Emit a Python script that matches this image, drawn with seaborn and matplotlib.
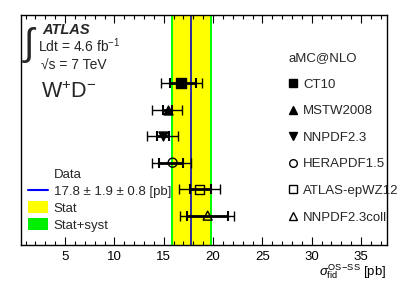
import matplotlib
matplotlib.use("Agg")
import matplotlib.pyplot as plt
import numpy as np
import seaborn as sns
from matplotlib.lines import Line2D
from matplotlib.patches import Patch
from matplotlib.ticker import MultipleLocator

# aMC@NLO predictions with different PDF sets
pdf_sets = ["CT10", "MSTW2008", "NNPDF2.3", "HERAPDF1.5", "ATLAS-epWZ12", "NNPDF2.3coll"]
xsec = [16.7, 15.4, 14.9, 15.9, 18.6, 19.45]
inner_lo = [1.1, 0.45, 0.6, 1.4, 0.9, 2.05]
inner_hi = [1.6, 0.45, 0.6, 1.1, 1.2, 2.05]
outer_lo = [2.0, 1.6, 1.6, 2.1, 2.1, 2.85]
outer_hi = [2.2, 1.5, 1.5, 1.9, 2.1, 2.65]
markers = ["s", "^", "v", "o", "s", "^"]
filled = [True, True, True, False, False, False]

# measurement
data_val = 17.8
data_stat = 1.9
data_syst = 0.8
data_tot = np.hypot(data_stat, data_syst)

sns.set_theme(style="white")
plt.rcParams["font.family"] = ["Liberation Sans", "DejaVu Sans"]
plt.rcParams["mathtext.fontset"] = "custom"
plt.rcParams["mathtext.rm"] = "Liberation Sans"
plt.rcParams["mathtext.it"] = "Liberation Sans:italic"
plt.rcParams["mathtext.bf"] = "Liberation Sans:bold"

W, H = 407, 292
fig = plt.figure(figsize=(W / 100, H / 100), dpi=100)
ax = fig.add_axes([20.7 / W, 1 - 245 / H, 366 / W, 230 / H])

line_col = "#1a1aa8"
ax.axvspan(data_val - data_tot, data_val + data_tot, color="#00ff00", lw=0, zorder=0)
ax.axvspan(data_val - data_stat, data_val + data_stat, color="#ffff00", lw=0, zorder=0)
ax.axvline(data_val, color=line_col, lw=1.3, zorder=1)

ypos = np.arange(len(pdf_sets))
ax.errorbar(xsec, ypos, xerr=[outer_lo, outer_hi], fmt="none", ecolor="black",
            elinewidth=1.0, capsize=3.5, capthick=1.0, zorder=2)
ax.errorbar(xsec, ypos, xerr=[inner_lo, inner_hi], fmt="none", ecolor="black",
            elinewidth=2.0, capsize=3.5, capthick=1.5, zorder=3)
for x, y, m, f in zip(xsec, ypos, markers, filled):
    sns.scatterplot(x=[x], y=[y], marker=m, s=42, facecolor="black" if f else "none",
                    edgecolor="black", linewidth=1.0, zorder=4, ax=ax)

ax.set_xlim(0.5, 37.6)
ax.set_ylim(6.11, -2.58)
ax.set_yticks([])
ax.xaxis.set_major_locator(MultipleLocator(5))
ax.xaxis.set_minor_locator(MultipleLocator(1))
ax.tick_params(axis="x", which="both", direction="in", top=True, bottom=True,
               labelsize=9.5, colors="black", pad=4)
ax.tick_params(axis="x", which="major", length=6, width=0.8)
ax.tick_params(axis="x", which="minor", length=3, width=0.8)
for s in ax.spines.values():
    s.set_color("black")
    s.set_linewidth(1.0)
ax.set_xlabel(r"$\sigma_{\rm fid}^{\rm OS\!-\!SS}$ [pb]", fontsize=9.5, color="black")
ax.xaxis.set_label_coords(1.0, -0.075)
ax.xaxis.label.set_ha("right")

def fxy(px, py):
    return px / W, 1 - py / H

fig.text(*fxy(24, 55), "\u222b", fontsize=27, va="baseline", ha="left")
fig.text(*fxy(42, 34.3), "ATLAS", fontsize=10.5, fontweight="bold", fontstyle="italic", va="baseline")
fig.text(*fxy(38.3, 52.3), r"Ldt = 4.6 fb$^{-1}$", fontsize=10, va="baseline")
fig.text(*fxy(41, 69.3), "\u221as = 7 TeV", fontsize=10, va="baseline")
fig.text(*fxy(41, 98.3), r"W$^{+}$D$^{-}$", fontsize=15.5, va="baseline")

model_handles = [Line2D([], [], marker=m, ls="none", color="black", markersize=5.5,
                        markerfacecolor="black" if f else "none", markeredgewidth=1.0)
                 for m, f in zip(markers, filled)]
leg1 = ax.legend(model_handles, pdf_sets, title="aMC@NLO", loc="upper left",
                 bbox_to_anchor=fxy(275, 39), bbox_transform=fig.transFigure,
                 frameon=False, fontsize=9.5, title_fontsize=9.5, alignment="left",
                 labelspacing=1.085, borderpad=1.0, handlelength=0.7, handletextpad=0.45,
                 borderaxespad=0)
ax.add_artist(leg1)

data_handles = [Line2D([], [], ls="none"),
                Line2D([], [], color="#0000ff", lw=1.5),
                Patch(facecolor="#ffff00", edgecolor="none"),
                Patch(facecolor="#00ee00", edgecolor="none")]
data_labels = ["Data", f"{data_val} \u00b1 {data_stat} \u00b1 {data_syst} [pb]", "Stat", "Stat+syst"]
ax.legend(data_handles, data_labels, loc="upper left", bbox_to_anchor=fxy(28, 168),
          bbox_transform=fig.transFigure, frameon=False, fontsize=9.5,
          labelspacing=0.25, borderpad=0, handlelength=1.55, handleheight=1.0,
          handletextpad=0.4, borderaxespad=0)

fig.savefig("out.png", dpi=100)
